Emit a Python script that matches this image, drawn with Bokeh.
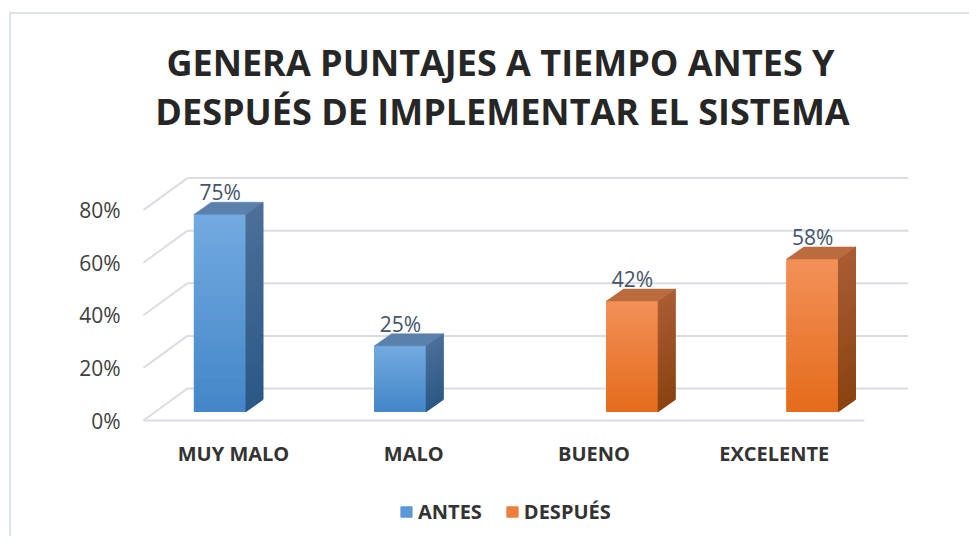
from bokeh.plotting import figure
from bokeh.models import (Range1d, FixedTicker, NumeralTickFormatter, Legend, LegendItem,
                          ColumnDataSource)
from bokeh.core.properties import value
from bokeh.embed import file_html
from bokeh.resources import INLINE

# ---------------- data ----------------
categories = ["MUY MALO", "MALO", "BUENO", "EXCELENTE"]
antes = [0.75, 0.25, 0.0, 0.0]
despues = [0.0, 0.0, 0.42, 0.58]
series_names = ["ANTES", "DESPUÉS"]
y_ticks = [0.0, 0.2, 0.4, 0.6, 0.8]
title_lines = ["GENERA PUNTAJES A TIEMPO ANTES Y", "DESPUÉS DE IMPLEMENTAR EL SISTEMA"]

# ---------------- layout constants (pixels) ----------------
PAGE_X0, PAGE_Y0 = 11, 14   # canvas origin on the page (after css margin + border)
W, H = 960, 524
FRAME_L = 130            # page x of frame left
CAT0_X = 233             # page x of first category centre
PX_X = 180.25            # px per category
ZERO_Y = 420             # page y of 0 on the front plane
PX_Y = 263               # px per 1.0 (100%)

x_start = (FRAME_L - CAT0_X) / PX_X
x_end = (PAGE_X0 + W - CAT0_X) / PX_X
y_start = (ZERO_Y - (PAGE_Y0 + H)) / PX_Y
y_end = (ZERO_Y - PAGE_Y0) / PX_Y

def dx(px):
    return px / PX_X

def dy(px):
    return px / PX_Y

def page_x(px):
    return (px - CAT0_X) / PX_X

def page_y(py):
    return (ZERO_Y - py) / PX_Y

FLOOR_DX, FLOOR_DY = dx(44), dy(32)
BF_DX, BF_DY = dx(12.5), dy(9)            # bar front plane offset
BB_DX, BB_DY = dx(12.5 + 17), dy(9 + 12)  # bar back plane offset
BAR_W = 0.287

GRID_COLOR = "#d9dde3"

p = figure(width=W, height=H, x_range=Range1d(x_start, x_end), y_range=Range1d(y_start, y_end),
           x_axis_type=None, output_backend="svg", toolbar_location=None,
           min_border_left=FRAME_L - PAGE_X0, min_border_right=0, min_border_top=0, min_border_bottom=0)
p.styles = {"margin-left": "9px", "margin-top": "12px",
            "border-left": "2px solid #dde1e8", "border-top": "2px solid #dde1e8"}
p.outline_line_color = None
p.xgrid.visible = False
p.ygrid.visible = False
p.background_fill_color = "white"
p.border_fill_color = "white"

# y axis
ax = p.yaxis[0]
ax.ticker = FixedTicker(ticks=y_ticks)
ax.formatter = NumeralTickFormatter(format="0%")
ax.axis_line_color = None
ax.major_tick_line_color = None
ax.minor_tick_line_color = None
ax.major_label_standoff = 4
ax.major_label_text_font = "Open Sans"
ax.major_label_text_font_size = "21px"
ax.major_label_text_color = "#404040"

n = len(categories)
xl, xr = -0.5, n - 0.5

# back wall gridlines
p.segment(x0=[xl + FLOOR_DX] * len(y_ticks), x1=[xr + FLOOR_DX] * len(y_ticks),
          y0=[t + FLOOR_DY for t in y_ticks], y1=[t + FLOOR_DY for t in y_ticks],
          line_color=GRID_COLOR, line_width=2)
# left wall diagonals
p.segment(x0=[xl] * len(y_ticks), x1=[xl + FLOOR_DX] * len(y_ticks),
          y0=y_ticks, y1=[t + FLOOR_DY for t in y_ticks],
          line_color=GRID_COLOR, line_width=2)
# floor front edge
p.segment(x0=[xl], x1=[xr], y0=[0], y1=[0], line_color=GRID_COLOR, line_width=2)

def hex2rgb(h):
    h = h.lstrip("#")
    return tuple(int(h[i:i + 2], 16) for i in (0, 2, 4))

def lerp(c1, c2, t):
    a, b = hex2rgb(c1), hex2rgb(c2)
    return "#%02x%02x%02x" % tuple(round(a[i] + (b[i] - a[i]) * t) for i in range(3))

styles = {
    "ANTES": dict(front=("#73aae0", "#4386c8"), side=("#4c6f98", "#2b5886"), top="#5a81ab"),
    "DESPUÉS": dict(front=("#f39159", "#e46b1b"), side=("#aa5d33", "#8a4211"), top="#bb6c3e"),
}

NSTRIP = 24
label_x, label_y, label_t = [], [], []
legend_items = []
for s_idx, (name, vals) in enumerate(zip(series_names, [antes, despues])):
    st = styles[name]
    base = dict(left=[], right=[], bottom=[], top=[])
    sbase = dict(xs=[], ys=[])
    fq = dict(left=[], right=[], bottom=[], top=[], color=[])
    sp = dict(xs=[], ys=[], color=[])
    tp = dict(xs=[], ys=[])
    for i, v in enumerate(vals):
        if v <= 0:
            continue
        x0 = i - BAR_W if s_idx == 0 else i
        x1 = x0 + BAR_W
        base["left"].append(x0 + BF_DX)
        base["right"].append(x1 + BF_DX)
        base["bottom"].append(BF_DY)
        base["top"].append(v + BF_DY)
        sbase["xs"].append([x1 + BF_DX, x1 + BB_DX, x1 + BB_DX, x1 + BF_DX])
        sbase["ys"].append([BF_DY, BB_DY, v + BB_DY, v + BF_DY])
        for k in range(NSTRIP):
            yb = v * k / NSTRIP
            yt = v * (k + 1) / NSTRIP
            t = 1 - (k + 0.5) / NSTRIP
            fq["left"].append(x0 + BF_DX)
            fq["right"].append(x1 + BF_DX)
            fq["bottom"].append(yb + BF_DY)
            fq["top"].append(yt + BF_DY)
            fq["color"].append(lerp(st["front"][0], st["front"][1], t))
            sp["xs"].append([x1 + BF_DX, x1 + BB_DX, x1 + BB_DX, x1 + BF_DX])
            sp["ys"].append([yb + BF_DY, yb + BB_DY, yt + BB_DY, yt + BF_DY])
            sp["color"].append(lerp(st["side"][0], st["side"][1], t))
        tp["xs"].append([x0 + BF_DX, x1 + BF_DX, x1 + BB_DX, x0 + BB_DX])
        tp["ys"].append([v + BF_DY, v + BF_DY, v + BB_DY, v + BB_DY])
        label_x.append((x0 + x1) / 2 + BF_DX)
        label_y.append(v + BB_DY + dy(10))
        label_t.append(f"{round(v * 100)}%")
    midf = lerp(st["front"][0], st["front"][1], 0.5)
    mids = lerp(st["side"][0], st["side"][1], 0.5)
    p.quad(source=ColumnDataSource(base), left="left", right="right", bottom="bottom", top="top",
           fill_color=midf, line_color=None)
    p.patches(source=ColumnDataSource(sbase), xs="xs", ys="ys", fill_color=mids, line_color=None)
    r_front = p.quad(source=ColumnDataSource(fq), left="left", right="right", bottom="bottom",
                     top="top", fill_color="color", line_color="color", line_width=1)
    p.patches(source=ColumnDataSource(sp), xs="xs", ys="ys", fill_color="color",
              line_color="color", line_width=1)
    p.patches(source=ColumnDataSource(tp), xs="xs", ys="ys", fill_color=st["top"],
              line_color=st["top"], line_width=0.5)
    legend_items.append(LegendItem(label=name, renderers=[r_front], index=NSTRIP // 2))

# data labels
p.text(x=label_x, y=label_y, text=label_t, text_align="center", text_baseline="alphabetic",
       text_font=value("Open Sans"), text_font_size="21px", text_color="#44546a")

# category labels
p.text(x=list(range(n)), y=[page_y(453)] * n, text=categories, text_align="center",
       text_baseline="middle", text_font=value("Open Sans"), text_font_style="bold",
       text_font_size="20px", text_color="#333333")

# title
p.text(x=[page_x(500), page_x(502)], y=[page_y(62), page_y(111)], text=title_lines,
       text_align="center", text_baseline="middle", text_font=value("Open Sans"),
       text_font_style="bold", text_font_size="36px", text_color="#262626")

legend = Legend(items=legend_items, orientation="horizontal",
                location=(399 - FRAME_L, PAGE_Y0 + H - 525),
                glyph_width=14, glyph_height=13, label_standoff=5, spacing=23, padding=0,
                margin=0, border_line_color=None, background_fill_alpha=0,
                label_text_font="Open Sans", label_text_font_style="bold",
                label_text_font_size="20px", label_text_color="#333333")
p.add_layout(legend)

open("out.html", "w").write(file_html(p, INLINE))
